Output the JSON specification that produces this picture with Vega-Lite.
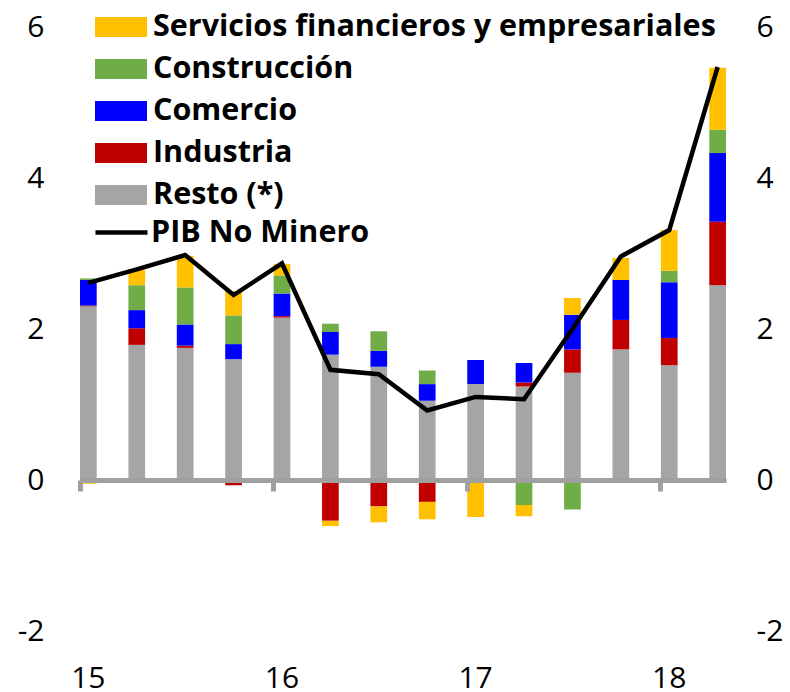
{
  "$schema": "https://vega.github.io/schema/vega-lite/v6.json",
  "width": 646,
  "height": 604,
  "autosize": {"type": "none"},
  "padding": {"left": 80, "top": 27, "right": 64, "bottom": 61},
  "background": "white",
  "config": {"view": {"stroke": null}, "font": "Open Sans"},
  "datasets": {
    "bars": [
      {"q": "2015-T1", "sector": "Resto (*)", "value": 2.30},
      {"q": "2015-T1", "sector": "Industria", "value": 0.01},
      {"q": "2015-T1", "sector": "Comercio", "value": 0.34},
      {"q": "2015-T1", "sector": "Construcción", "value": 0.02},
      {"q": "2015-T1", "sector": "Servicios financieros y empresariales", "value": -0.05},
      {"q": "2015-T2", "sector": "Resto (*)", "value": 1.79},
      {"q": "2015-T2", "sector": "Industria", "value": 0.22},
      {"q": "2015-T2", "sector": "Comercio", "value": 0.24},
      {"q": "2015-T2", "sector": "Construcción", "value": 0.33},
      {"q": "2015-T2", "sector": "Servicios financieros y empresariales", "value": 0.21},
      {"q": "2015-T3", "sector": "Resto (*)", "value": 1.75},
      {"q": "2015-T3", "sector": "Industria", "value": 0.03},
      {"q": "2015-T3", "sector": "Comercio", "value": 0.28},
      {"q": "2015-T3", "sector": "Construcción", "value": 0.49},
      {"q": "2015-T3", "sector": "Servicios financieros y empresariales", "value": 0.42},
      {"q": "2015-T4", "sector": "Resto (*)", "value": 1.60},
      {"q": "2015-T4", "sector": "Industria", "value": -0.07},
      {"q": "2015-T4", "sector": "Comercio", "value": 0.20},
      {"q": "2015-T4", "sector": "Construcción", "value": 0.38},
      {"q": "2015-T4", "sector": "Servicios financieros y empresariales", "value": 0.32},
      {"q": "2016-T1", "sector": "Resto (*)", "value": 2.15},
      {"q": "2016-T1", "sector": "Industria", "value": 0.02},
      {"q": "2016-T1", "sector": "Comercio", "value": 0.30},
      {"q": "2016-T1", "sector": "Construcción", "value": 0.24},
      {"q": "2016-T1", "sector": "Servicios financieros y empresariales", "value": 0.15},
      {"q": "2016-T2", "sector": "Resto (*)", "value": 1.66},
      {"q": "2016-T2", "sector": "Industria", "value": -0.54},
      {"q": "2016-T2", "sector": "Comercio", "value": 0.30},
      {"q": "2016-T2", "sector": "Construcción", "value": 0.11},
      {"q": "2016-T2", "sector": "Servicios financieros y empresariales", "value": -0.07},
      {"q": "2016-T3", "sector": "Resto (*)", "value": 1.50},
      {"q": "2016-T3", "sector": "Industria", "value": -0.35},
      {"q": "2016-T3", "sector": "Comercio", "value": 0.21},
      {"q": "2016-T3", "sector": "Construcción", "value": 0.26},
      {"q": "2016-T3", "sector": "Servicios financieros y empresariales", "value": -0.21},
      {"q": "2016-T4", "sector": "Resto (*)", "value": 1.05},
      {"q": "2016-T4", "sector": "Industria", "value": -0.29},
      {"q": "2016-T4", "sector": "Comercio", "value": 0.22},
      {"q": "2016-T4", "sector": "Construcción", "value": 0.18},
      {"q": "2016-T4", "sector": "Servicios financieros y empresariales", "value": -0.23},
      {"q": "2017-T1", "sector": "Resto (*)", "value": 1.27},
      {"q": "2017-T1", "sector": "Industria", "value": 0.0},
      {"q": "2017-T1", "sector": "Comercio", "value": 0.32},
      {"q": "2017-T1", "sector": "Construcción", "value": 0.0},
      {"q": "2017-T1", "sector": "Servicios financieros y empresariales", "value": -0.49},
      {"q": "2017-T2", "sector": "Resto (*)", "value": 1.24},
      {"q": "2017-T2", "sector": "Industria", "value": 0.05},
      {"q": "2017-T2", "sector": "Comercio", "value": 0.26},
      {"q": "2017-T2", "sector": "Construcción", "value": -0.33},
      {"q": "2017-T2", "sector": "Servicios financieros y empresariales", "value": -0.15},
      {"q": "2017-T3", "sector": "Resto (*)", "value": 1.42},
      {"q": "2017-T3", "sector": "Industria", "value": 0.31},
      {"q": "2017-T3", "sector": "Comercio", "value": 0.46},
      {"q": "2017-T3", "sector": "Construcción", "value": -0.39},
      {"q": "2017-T3", "sector": "Servicios financieros y empresariales", "value": 0.22},
      {"q": "2017-T4", "sector": "Resto (*)", "value": 1.73},
      {"q": "2017-T4", "sector": "Industria", "value": 0.39},
      {"q": "2017-T4", "sector": "Comercio", "value": 0.53},
      {"q": "2017-T4", "sector": "Construcción", "value": 0.0},
      {"q": "2017-T4", "sector": "Servicios financieros y empresariales", "value": 0.29},
      {"q": "2018-T1", "sector": "Resto (*)", "value": 1.52},
      {"q": "2018-T1", "sector": "Industria", "value": 0.36},
      {"q": "2018-T1", "sector": "Comercio", "value": 0.74},
      {"q": "2018-T1", "sector": "Construcción", "value": 0.15},
      {"q": "2018-T1", "sector": "Servicios financieros y empresariales", "value": 0.54},
      {"q": "2018-T2", "sector": "Resto (*)", "value": 2.58},
      {"q": "2018-T2", "sector": "Industria", "value": 0.84},
      {"q": "2018-T2", "sector": "Comercio", "value": 0.91},
      {"q": "2018-T2", "sector": "Construcción", "value": 0.31},
      {"q": "2018-T2", "sector": "Servicios financieros y empresariales", "value": 0.82}
    ],
    "pib": [
      {"q": "2015-T1", "pib": 2.61},
      {"q": "2015-T2", "pib": 2.79},
      {"q": "2015-T3", "pib": 2.98},
      {"q": "2015-T4", "pib": 2.45},
      {"q": "2016-T1", "pib": 2.87},
      {"q": "2016-T2", "pib": 1.46},
      {"q": "2016-T3", "pib": 1.40},
      {"q": "2016-T4", "pib": 0.92},
      {"q": "2017-T1", "pib": 1.10},
      {"q": "2017-T2", "pib": 1.07},
      {"q": "2017-T3", "pib": 2.00},
      {"q": "2017-T4", "pib": 2.96},
      {"q": "2018-T1", "pib": 3.31},
      {"q": "2018-T2", "pib": 5.47}
    ]
  },
  "layer": [
    {
      "data": {"name": "bars"},
      "transform": [
        {"calculate": "indexof(['Resto (*)','Industria','Comercio','Construcción','Servicios financieros y empresariales'], datum.sector)", "as": "ord"}
      ],
      "mark": {"type": "bar"},
      "encoding": {
        "x": {
          "field": "q", "type": "ordinal",
          "scale": {"type": "band", "paddingInner": 0.655, "paddingOuter": 0},
          "axis": {
            "orient": "bottom", "offset": -151, "title": null, "labels": false,
            "values": ["2015-T1", "2016-T1", "2017-T1", "2018-T1"],
            "bandPosition": 0, "ticks": true, "tickSize": 11, "tickWidth": 5,
            "tickColor": "#A0A0A0", "domain": true, "domainWidth": 5, "domainColor": "#A0A0A0",
            "grid": false, "zindex": 1
          }
        },
        "y": {
          "field": "value", "type": "quantitative",
          "scale": {"domain": [-2, 6], "nice": false, "zero": false},
          "axis": {
            "orient": "left", "title": null, "values": [-2, 0, 2, 4, 6],
            "labelExpr": "toString(datum.value)",
            "domain": false, "ticks": false, "grid": false,
            "labelFont": "Open Sans", "labelFontSize": 30, "labelColor": "#000000",
            "labelPadding": 36
          }
        },
        "color": {
          "field": "sector", "type": "nominal",
          "scale": {
            "domain": ["Servicios financieros y empresariales", "Construcción", "Comercio", "Industria", "Resto (*)"],
            "range": ["#FFC000", "#70AD47", "#0000FF", "#C00000", "#A5A5A5"]
          },
          "legend": {
            "orient": "none", "legendX": 15, "legendY": -26, "title": null, "padding": 0,
            "symbolType": "M-1,-0.385H1V0.385H-1Z", "symbolSize": 2704, "symbolStrokeWidth": 0,
            "symbolOpacity": 1,
            "labelFont": "Open Sans", "labelFontWeight": "bold", "labelFontSize": 30.5,
            "labelColor": "#000000", "labelOffset": 6, "labelLimit": 800, "rowPadding": 0
          }
        },
        "order": {"field": "ord", "type": "quantitative"}
      }
    },
    {
      "data": {"name": "pib"},
      "mark": {"type": "line", "strokeWidth": 4.5},
      "encoding": {
        "x": {
          "field": "q", "type": "ordinal",
          "axis": {
            "orient": "bottom", "title": null, "domain": false, "ticks": false, "tickSize": 0,
            "grid": false, "labelAngle": 0,
            "labelExpr": "indexof(datum.value,'T1') >= 0 ? substring(datum.value,2,4) : ''",
            "labelFont": "Open Sans", "labelFontSize": 30, "labelColor": "#000000",
            "labelBaseline": "middle", "labelPadding": 47
          }
        },
        "y": {
          "field": "pib", "type": "quantitative",
          "axis": {
            "orient": "right", "title": null, "values": [-2, 0, 2, 4, 6],
            "labelExpr": "toString(datum.value)",
            "domain": false, "ticks": false, "grid": false,
            "labelFont": "Open Sans", "labelFontSize": 30, "labelColor": "#000000",
            "labelPadding": 30
          }
        },
        "stroke": {
          "datum": "PIB No Minero",
          "scale": {"range": ["#000000"]},
          "legend": {
            "orient": "none", "legendX": 13, "legendY": 177, "title": null, "padding": 0,
            "symbolType": "stroke", "symbolSize": 2704, "symbolStrokeWidth": 4.5,
            "symbolStrokeColor": "#000000",
            "labelFont": "Open Sans", "labelFontWeight": "bold", "labelFontSize": 30.5,
            "labelColor": "#000000", "labelOffset": 1, "labelLimit": 800
          }
        }
      }
    }
  ],
  "resolve": {"axis": {"x": "independent", "y": "independent"}}
}
